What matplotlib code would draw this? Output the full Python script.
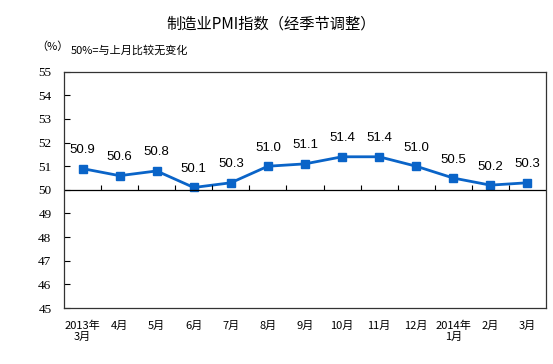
import numpy as np
import matplotlib
matplotlib.use("Agg")
import matplotlib.pyplot as plt

plt.rcParams['font.family'] = ['Noto Sans CJK SC', 'DejaVu Sans']

# --- данные ---
months = ["2013年\n3月", "4月", "5月", "6月", "7月", "8月", "9月",
          "10月", "11月", "12月", "2014年\n1月", "2月", "3月"]
pmi = [50.9, 50.6, 50.8, 50.1, 50.3, 51.0, 51.1, 51.4, 51.4, 51.0, 50.5, 50.2, 50.3]
y_ticks = list(range(45, 56))

fig = plt.figure(figsize=(5.53, 3.64), dpi=100)
ax = fig.add_axes([0.1157, 0.1538, 0.8716, 0.6492])

x = np.arange(len(pmi))
ax.plot(x, pmi, color='#0A64C8', linewidth=2, marker='s', markersize=5.5)
for xi, v in zip(x, pmi):
    ax.annotate(f"{v:.1f}", (xi, v), xytext=(0, 9), textcoords='offset points',
                ha='center', va='bottom', fontsize=9.5, family='Liberation Sans')

ax.set_xlim(-0.5, len(pmi) - 0.5)
ax.set_ylim(45, 55)

# линия 50% и засечки между месяцами
ax.axhline(50, color='black', linewidth=0.9)
bounds = x[:-1] + 0.5
ax.vlines(bounds, 50, 50.2, color='black', linewidth=0.8)

ax.set_yticks(y_ticks)
ax.set_yticklabels([str(t) for t in y_ticks], fontsize=9.5, family='Liberation Serif')
ax.tick_params(axis='y', direction='in', length=4, width=0.8, pad=9)
ax.set_xticks(x)
ax.set_xticklabels(months, fontsize=8, linespacing=1.15)
ax.tick_params(axis='x', length=0, pad=9)

for s in ax.spines.values():
    s.set_linewidth(0.9)
    s.set_color('#333333')

fig.text(0.49, 0.935, "制造业PMI指数（经季节调整）", ha='center', va='center', fontsize=11)
fig.text(0.066, 0.872, "（%）", ha='left', va='center', fontsize=8)
fig.text(0.127, 0.862, "50%=与上月比较无变化", ha='left', va='center', fontsize=8)

fig.savefig("out.png", dpi=100)
